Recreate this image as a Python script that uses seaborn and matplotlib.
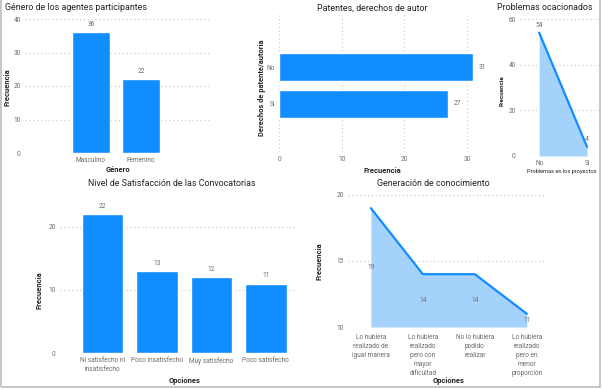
import numpy as np
import pandas as pd
import matplotlib
matplotlib.use("Agg")
import matplotlib.pyplot as plt
import seaborn as sns

# data
genero_cats = ["Masculino", "Femenino"]
genero_vals = [36, 22]

patente_cats = ["No", "Si"]
patente_vals = [31, 27]

problemas_cats = ["No", "Si"]
problemas_vals = [54, 4]

satisf_cats = ["Ni satisfecho ni\ninsatisfecho", "Poco insatisfecho", "Muy satisfecho", "Poco satisfecho"]
satisf_vals = [22, 13, 12, 11]

conoc_cats = ["Lo hubiera\nrealizado de\nigual manera",
              "Lo hubiera\nrealizado\npero con\nmayor\ndificultad",
              "No lo hubiera\npodido\nrealizar",
              "Lo hubiera\nrealizado\npero en\nmenor\nproporción"]
conoc_vals = [19, 14, 14, 11]

sns.set_theme(style="white")
plt.rcParams['font.family'] = ['Roboto', 'DejaVu Sans']

BLUE = "#118DFF"
FILL = "#A5D2FB"
TITLE_C = "#252423"
TICK_C = "#6E6C6A"
GRID_C = "#C8C6C4"

W, H = 602, 389
fig = plt.figure(figsize=(W / 100, H / 100), dpi=100)


def rect(l, t, r, b):
    return [l / W, 1 - b / H, (r - l) / W, (b - t) / H]


def style(ax, grid_axis="y"):
    for s in ax.spines.values():
        s.set_visible(False)
    ax.tick_params(length=0, labelsize=4.7, labelcolor=TICK_C, pad=3)
    ax.grid(axis=grid_axis, color=GRID_C, linestyle=(0, (1, 2.5)), linewidth=0.8)
    ax.set_axisbelow(True)


def labels(ax, xl, yl, xpos, ypos, box):
    l, t, r, b = box
    ax.set_xlabel(xl, fontsize=5.4, color=TITLE_C, fontweight="bold")
    ax.set_ylabel(yl, fontsize=5.4, color=TITLE_C, fontweight="bold")
    ax.xaxis.set_label_coords((xpos[0] - l) / (r - l), (b - xpos[1]) / (b - t))
    ax.yaxis.set_label_coords((ypos[0] - l) / (r - l), (b - ypos[1]) / (b - t))
    ax.xaxis.label.set_va("center")
    ax.yaxis.label.set_va("center")


def title(x, y, txt, ha="center"):
    fig.text(x / W, 1 - y / H, txt, ha=ha, va="center", fontsize=6.4, color=TITLE_C)


# Panel 1: Genero
b1 = (25, 19, 210, 153)
ax1 = fig.add_axes(rect(*b1))
sns.barplot(x=genero_cats, y=genero_vals, color=BLUE, width=0.76, ax=ax1, saturation=1)
ax1.set_ylim(0, 40)
ax1.set_xlim(-1.32, 2.38)
ax1.set_yticks([0, 10, 20, 30, 40])
style(ax1)
ax1.bar_label(ax1.containers[0], padding=3, fontsize=4.8, color=TICK_C)
labels(ax1, "Género", "Frecuencia", (118, 170), (8, 87), b1)
title(5, 8, "Género de los agentes participantes", ha="left")

# Panel 2: Patentes
b2 = (279, 15, 480, 152)
ax2 = fig.add_axes(rect(*b2))
sns.barplot(x=patente_vals, y=patente_cats, color=BLUE, width=0.76, orient="h", ax=ax2, saturation=1)
ax2.set_xlim(0, 32.06)
ax2.set_ylim(2.30, -1.41)
ax2.set_xticks([0, 10, 20, 30])
style(ax2, grid_axis="x")
ax2.bar_label(ax2.containers[0], padding=4, fontsize=4.8, color=TICK_C)
labels(ax2, "Frecuencia", "Derechos de patente/autoría", (382, 171), (262, 88), b2)
title(372, 8, "Patentes, derechos de autor")

# Panel 3: Problemas
b3 = (520, 19, 600, 156)
ax3 = fig.add_axes(rect(*b3))
px = np.arange(len(problemas_cats))
ax3.fill_between(px, 0, problemas_vals, color=FILL, linewidth=0)
sns.lineplot(x=px, y=problemas_vals, color=BLUE, linewidth=1.6, ax=ax3)
ax3.set_ylim(0, 60)
ax3.set_xlim(-0.4, 1.27)
ax3.set_yticks([0, 20, 40, 60])
ax3.set_xticks(px)
ax3.set_xticklabels(problemas_cats)
style(ax3)
for xi, v in zip(px, problemas_vals):
    ax3.annotate(str(v), (xi, v), xytext=(0, 4), textcoords="offset points",
                 ha="center", fontsize=4.8, color=TICK_C)
labels(ax3, "Problemas en los proyectos", "Frecuencia", (562, 172), (502, 91), b3)
ax3.xaxis.label.set_fontsize(4.1)
ax3.xaxis.label.set_fontweight("normal")
ax3.yaxis.label.set_fontsize(4.4)
title(545, 8, "Problemas ocacionados")

# Panel 4: Satisfaccion
b4 = (60, 196, 298, 353)
ax4 = fig.add_axes(rect(*b4))
sns.barplot(x=satisf_cats, y=satisf_vals, color=BLUE, width=0.76, ax=ax4, saturation=1)
ax4.set_ylim(0, 24.9)
ax4.set_xlim(-0.78, 3.59)
ax4.set_yticks([0, 10, 20])
ax4.set_xticklabels(satisf_cats, linespacing=1.3)
style(ax4)
ax4.bar_label(ax4.containers[0], padding=3, fontsize=4.8, color=TICK_C)
labels(ax4, "Opciones", "Frecuencia", (185, 381), (39, 290), b4)
title(172, 183, "Nivel de Satisfacción de las Convocatorias")

# Panel 5: Conocimiento
b5 = (348, 193, 545, 327)
ax5 = fig.add_axes(rect(*b5))
cx = np.arange(len(conoc_cats))
ax5.fill_between(cx, 10, conoc_vals, color=FILL, linewidth=0)
sns.lineplot(x=cx, y=conoc_vals, color=BLUE, linewidth=1.6, ax=ax5)
ax5.set_ylim(10, 20.15)
ax5.set_xlim(-0.44, 3.35)
ax5.set_yticks([10, 15, 20])
ax5.set_xticks(cx)
ax5.set_xticklabels(conoc_cats, linespacing=1.4, va="top")
style(ax5)
ax5.tick_params(axis="x", pad=5)
for xi, v in zip(cx, conoc_vals):
    ax5.text(xi, (10 + v) / 2, str(v), ha="center", va="center", fontsize=4.8, color=TICK_C)
labels(ax5, "Opciones", "Frecuencia", (449, 381), (320, 261), b5)
title(433, 183, "Generación de conocimiento")

# outer frame like the dashboard border
fig.add_artist(plt.Rectangle((0.002, 0.004), 0.995, 1.2, transform=fig.transFigure,
                             fill=False, edgecolor="#BDBDBD", linewidth=1.2))

fig.savefig("out.png", dpi=100)
